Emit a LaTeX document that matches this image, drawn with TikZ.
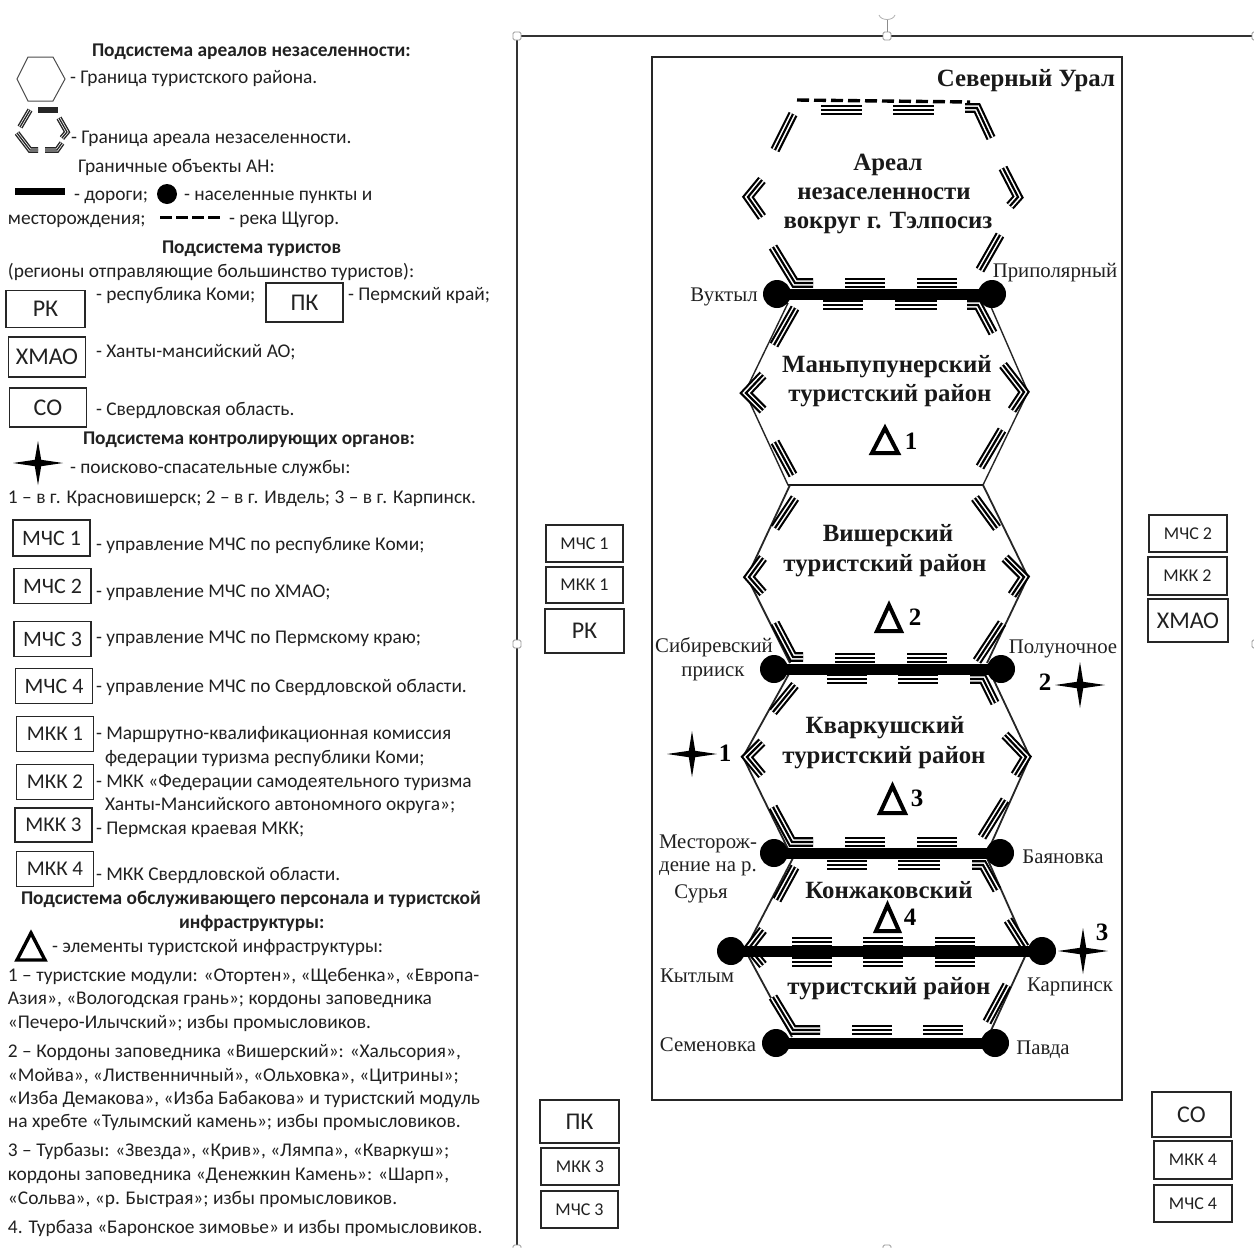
\documentclass[tikz,border=0pt]{standalone}
\usepackage{fontspec}
\setmainfont{Carlito}
\newfontfamily\serifru{Liberation Serif}
\definecolor{ink}{gray}{0.13}
\newcounter{tn}
\tikzset{
  x=1pt,y=-1pt,
  leg/.style={anchor=base west,inner sep=0,outer sep=0,text=ink,font=\fontsize{19.4}{22}\selectfont},
  legb/.style={leg,font=\fontsize{19.4}{22}\selectfont\bfseries},
  mapb/.style={inner sep=0,outer sep=0,yshift=-2.5pt,text=black!90,font=\serifru\fontsize{24.8}{28}\selectfont\bfseries},
  place/.style={inner sep=0,outer sep=0,yshift=-1.5pt,text=ink,font=\serifru\fontsize{20.8}{24}\selectfont},
  num/.style={inner sep=0,outer sep=0,font=\serifru\fontsize{25}{28}\selectfont\bfseries},
  boxl/.style={draw=black!85,line width=1.1,inner sep=0,text=ink},
  trA/.style={line width=9.6,black,line join=miter,miter limit=6},
  trB/.style={line width=5.3,white,line join=miter,miter limit=6},
  trC/.style={line width=2.2,black,line join=miter,miter limit=6},
  smA/.style={line width=5.6,black!85,line join=miter},
  smB/.style={line width=2.8,white,line join=miter},
  smC/.style={line width=1.3,black!85,line join=miter},
  hexo/.style={line width=1.4,black!85,line join=miter},
  road/.style={line width=11,black},
  dot/.style={circle,fill=black,inner sep=0,outer sep=0,minimum size=28},
  river/.style={line width=3.4,black,dash pattern=on 12 off 5},
  delta/.style={line width=4,black,line join=miter},
  handle/.style={draw=black!40,fill=white,line width=0.8,rounded corners=1.5},
}
\newcommand{\TT}[4]{\stepcounter{tn}\node[#1] (n\arabic{tn}) at (#2,#3) {#4};}
\newcommand{\tri}[1]{\draw[trA] #1; \draw[trB] #1; \draw[trC] #1;}
\newcommand{\smtri}[1]{\draw[smA] #1; \draw[smB] #1; \draw[smC] #1;}
\newcommand{\barr}[3]{\tri{(#1,#3) -- (#2,#3)}}
\newcommand{\fourstar}[4]{\fill[black,shift={(#1,#2)}] (-#3,0) -- (-3.2,-3.2) -- (0,-#4) -- (3.2,-3.2) -- (#3,0) -- (3.2,3.2) -- (0,#4) -- (-3.2,3.2) -- cycle;}
\newcommand{\deltatri}[4]{\draw[delta] (#1,#4) -- ({(#1+#2)/2},#3) -- (#2,#4) -- cycle;}
\newcommand{\BX}[7]{\node[boxl,minimum width=#4,minimum height=#5,font=\fontsize{#7}{#7}\selectfont] (#1) at (#2,#3) {#6};}
\begin{document}
\begin{tikzpicture}
\useasboundingbox (0,0) rectangle (1254,1248);
\fill[white] (0,0) rectangle (1254,1248);
% selection frame
\draw[line width=1.8,black!80] (1254,36) -- (517,36) -- (517,1248);
\draw[black!45,line width=0.8] (887,36) -- (887,20);
\draw[black!30,line width=0.8] (879,15) .. controls (881,21) and (893,21) .. (895,15);
\draw[handle] (513,32) rectangle (521,40);
\draw[handle] (883,32) rectangle (891,40);
\draw[handle] (513,640) rectangle (521,648);
\draw[handle] (1252,32) rectangle (1258,40);
\draw[handle] (1252,640) rectangle (1258,648);
\draw[handle] (883,1245) rectangle (891,1252);
\draw[handle] (513,1245) rectangle (521,1252);
% map frame
\draw[line width=1.1,black!85] (652,57) rectangle (1122,1100);
% hexagon outlines
\draw[hexo] (788,303) -- (745,392) -- (788,485) -- (983,485) -- (1028,392) -- (988,300);
\draw[line width=2.4,black!90] (788,485) -- (983,485);
\draw[hexo,line width=1.8] (790,485) -- (747,577) -- (790,663);
\draw[hexo,line width=1.8] (983,485) -- (1028,577) -- (987,663);
\draw[hexo,line width=1.8] (790,672) -- (743,757) -- (790,853);
\draw[hexo,line width=1.8] (990,672) -- (1030,757) -- (987,853);
\draw[hexo,line width=1.8] (793,858) -- (745,950) -- (792,1037);
\draw[hexo,line width=1.8] (987,858) -- (1028,950) -- (988,1037);
% river
\draw[river] (797,100) -- (970,102);
% areal triple lines
\barr{821}{862}{110}\barr{893}{934}{110}
\tri{(965,108) -- (977,108) -- (991,138)}
\tri{(793,114) -- (775,150)}
\tri{(762,180) -- (748,197) -- (762,217)}
\tri{(1003,168) -- (1018,197) -- (1010,206)}
\tri{(1000,235) -- (980,270)}
\tri{(773,247) -- (795,283) -- (813,283)}
\barr{845}{885}{283}\barr{917}{957}{283}
% Manpupuner
\barr{823}{863}{305}\barr{895}{937}{305}
\tri{(967,305) -- (978,305) -- (993,333)}
\tri{(795,308) -- (774,345)}
\tri{(763,375) -- (746,393) -- (763,410)}
\tri{(1003,365) -- (1024,392) -- (1012,410)}
\tri{(775,442) -- (793,475)}
\tri{(1002,430) -- (980,467)}
% Vishera
\tri{(795,498) -- (775,528)}
\tri{(975,498) -- (997,528)}
\tri{(763,558) -- (749,577) -- (763,593)}
\tri{(1005,558) -- (1024,577) -- (1012,595)}
\tri{(775,623) -- (793,657) -- (803,657)}
\barr{835}{875}{658}\barr{907}{947}{658}
\tri{(1002,623) -- (977,661)}
% Kvarkush
\barr{827}{867}{679}\barr{898}{938}{679}
\tri{(970,679) -- (983,679) -- (995,703)}
\tri{(795,685) -- (773,712)}
\tri{(762,742) -- (747,757) -- (762,775)}
\tri{(1005,735) -- (1026,757) -- (1015,775)}
\tri{(773,807) -- (792,842) -- (813,842)}
\barr{845}{885}{842}\barr{917}{957}{842}
\tri{(1005,800) -- (982,837)}
% Konzhak
\barr{827}{867}{865}\barr{898}{940}{865}
\tri{(972,865) -- (983,865) -- (997,890)}
\tri{(795,867) -- (777,900)}
\tri{(763,930) -- (749,948) -- (763,965)}
\tri{(1008,920) -- (1025,947)}
\barr{792}{832}{942}\barr{863}{903}{942}\barr{935}{975}{942}
\barr{792}{832}{962}\barr{863}{903}{962}\barr{935}{975}{962}
\tri{(773,997) -- (793,1030) -- (820,1030)}
\barr{852}{892}{1030}\barr{923}{963}{1030}
\tri{(1007,985) -- (987,1022)}
% settlements and roads
\node[dot] (vuk) at (777,294) {};
\node[dot] (pri) at (992,294) {};
\node[dot] (sib) at (774,669) {};
\node[dot] (pol) at (1001,669) {};
\node[dot] (mes) at (774,853) {};
\node[dot] (bay) at (1000,853) {};
\node[dot] (kyt) at (731,951) {};
\node[dot] (kar) at (1042,951) {};
\node[dot] (sem) at (776,1043) {};
\node[dot] (pav) at (995,1043) {};
\draw[road] (vuk.center) -- (pri.center);
\draw[road] (sib.center) -- (pol.center);
\draw[road] (mes.center) -- (bay.center);
\draw[road] (kyt.center) -- (kar.center);
\draw[road] (sem.center) -- (pav.center);
% map titles
\TT{mapb,anchor=east}{1115}{78}{Северный Урал}
\TT{mapb}{888}{162}{Ареал}
\TT{mapb}{884}{191}{незаселенности}
\TT{mapb}{888}{221}{вокруг г. Тэлпосиз}
\TT{mapb}{887}{364}{Маньпупунерский}
\TT{mapb}{890}{393}{туристский район}
\TT{mapb}{888}{533}{Вишерский}
\TT{mapb}{885}{563}{туристский район}
\TT{mapb}{885}{725}{Кваркушский}
\TT{mapb}{884}{755}{туристский район}
\TT{mapb}{889}{888}{Конжаковский}
\TT{mapb}{889}{986}{туристский район}
% places
\TT{place}{724}{295}{Вуктыл}
\TT{place}{1055}{271}{Приполярный}
\TT{place}{714}{646}{Сибиревский}
\TT{place}{713}{672}{прииск}
\TT{place}{1063}{647}{Полуночное}
\TT{place}{708}{842}{Месторож-}
\TT{place}{708}{867}{дение на р.}
\TT{place}{701}{892}{Сурья}
\TT{place}{1063}{855}{Баяновка}
\TT{place}{697}{974}{Кытлым}
\TT{place}{1070}{985}{Карпинск}
\TT{place}{708}{1043}{Семеновка}
\TT{place}{1043}{1048}{Павда}
% infrastructure triangles
\deltatri{872}{898}{428}{453}\TT{num}{911}{441}{1}
\deltatri{877}{901}{605}{631}\TT{num}{915}{617}{2}
\deltatri{880}{905}{786}{813}\TT{num}{917}{798}{3}
\deltatri{876}{899}{905}{931}\TT{num}{910}{917}{4}
% stars
\fourstar{692}{754}{25}{23}\TT{num}{725}{753}{1}
\fourstar{1080}{685}{25}{23}\TT{num}{1045}{682}{2}
\fourstar{1083}{951}{25}{23}\TT{num}{1102}{932}{3}
% map boxes
\BX{a1}{584.5}{543.5}{77}{37}{МЧС 1}{18}{18}
\BX{a2}{584.5}{585}{77}{36}{МКК 1}{18}{18}
\BX{a3}{584.5}{631}{79}{44}{РК}{24}{24}
\BX{b1}{1188}{533.5}{78}{37}{МЧС 2}{18}{18}
\BX{b2}{1187.5}{576}{79}{38}{МКК 2}{18}{18}
\BX{b3}{1188}{620.5}{80}{43}{ХМАО}{24}{24}
\BX{c1}{579.5}{1121.5}{79}{43}{ПК}{24}{24}
\BX{c2}{580}{1166.5}{78}{37}{МКК 3}{18}{18}
\BX{c3}{579.5}{1209.5}{77}{37}{МЧС 3}{18}{18}
\BX{d1}{1191.5}{1114.5}{79}{45}{СО}{24}{24}
\BX{d2}{1193}{1160}{78}{38}{МКК 4}{18}{18}
\BX{d3}{1193}{1203.5}{78}{37}{МЧС 4}{18}{18}
% legend boxes
\BX{l1}{45.5}{309}{79}{37}{РК}{24}{24}
\BX{l2}{304.5}{302.5}{77}{39}{ПК}{24}{24}
\BX{l3}{47}{357}{77}{40}{ХМАО}{24}{24}
\BX{l4}{48}{407.5}{77}{39}{СО}{24}{24}
\BX{l5}{51.5}{538}{77}{36}{МЧС 1}{22}{22}
\BX{l6}{52.5}{586}{77}{35}{МЧС 2}{22}{22}
\BX{l7}{52.5}{639}{77}{35}{МЧС 3}{22}{22}
\BX{l8}{54}{686}{77}{35}{МЧС 4}{22}{22}
\BX{l9}{55}{734}{77}{35}{МКК 1}{21}{21}
\BX{l10}{55}{782}{77}{35}{МКК 2}{21}{21}
\BX{l11}{53.5}{825}{77}{34}{МКК 3}{21}{21}
\BX{l12}{55}{869}{77}{35}{МКК 4}{21}{21}
% legend icons
\draw[line width=1,black!70] (17,79) -- (28,57) -- (53,57) -- (65,79) -- (53,101) -- (28,101) -- cycle;
\smtri{(38,110) -- (58,110)}
\smtri{(30,110) -- (20,127)}
\smtri{(59,118) -- (67,132) -- (62,138)}
\smtri{(17,133) -- (30,150) -- (38,150)}
\smtri{(45,150) -- (57,150) -- (62,143)}
\draw[line width=7,black] (15,191) -- (65,191);
\node[circle,fill=black,inner sep=0,minimum size=20] (ldot) at (167,194) {};
\draw[line width=3,black,dash pattern=on 12 off 4] (160,217) -- (220,217);
\fourstar{38}{463}{25}{22}
\draw[line width=3.4,black,line join=miter] (17,960) -- (31,933) -- (45,960) -- cycle;
% legend text
\TT{legb}{92}{56}{Подсистема ареалов незаселенности:}
\TT{leg}{70}{83}{- Граница туристского района.}
\TT{leg}{71}{143}{- Граница ареала незаселенности.}
\TT{leg}{78}{172}{Граничные объекты АН:}
\TT{leg}{74}{200}{- дороги;}
\TT{leg}{184}{200}{- населенные пункты и}
\TT{leg}{8}{224}{месторождения;}
\TT{leg}{229}{224}{- река Щугор.}
\TT{legb}{162}{253}{Подсистема туристов}
\TT{leg}{8}{277}{(регионы отправляющие большинство туристов):}
\TT{leg}{96}{300}{- республика Коми;}
\TT{leg}{348}{300}{- Пермский край;}
\TT{leg}{96}{357}{- Ханты-мансийский АО;}
\TT{leg}{96}{415}{- Свердловская область.}
\TT{legb}{83}{444}{Подсистема контролирующих органов:}
\TT{leg}{70}{473}{- поисково-спасательные службы:}
\TT{leg}{8}{503}{1 – в г. Красновишерск; 2 – в г. Ивдель; 3 – в г. Карпинск.}
\TT{leg}{96}{550}{- управление МЧС по республике Коми;}
\TT{leg}{96}{597}{- управление МЧС по ХМАО;}
\TT{leg}{96}{643}{- управление МЧС по Пермскому краю;}
\TT{leg}{96}{692}{- управление МЧС по Свердловской области.}
\TT{leg}{96}{739}{- Маршрутно-квалификационная комиссия}
\TT{leg}{105}{763}{федерации туризма республики Коми;}
\TT{leg}{96}{787}{- МКК «Федерации самодеятельного туризма}
\TT{leg}{105}{810}{Ханты-Мансийского автономного округа»;}
\TT{leg}{96}{834}{- Пермская краевая МКК;}
\TT{leg}{96}{880}{- МКК Свердловской области.}
\TT{legb}{21}{904}{Подсистема обслуживающего персонала и туристской}
\TT{legb}{179}{928}{инфраструктуры:}
\TT{leg}{52}{952}{- элементы туристской инфраструктуры:}
\TT{leg}{8}{981}{1 – туристские модули: «Отортен», «Щебенка», «Европа-}
\TT{leg}{8}{1004}{Азия», «Вологодская грань»; кордоны заповедника}
\TT{leg}{8}{1028}{«Печеро-Илычский»; избы промысловиков.}
\TT{leg}{8}{1057}{2 – Кордоны заповедника «Вишерский»: «Хальсория»,}
\TT{leg}{8}{1081}{«Мойва», «Лиственничный», «Ольховка», «Цитрины»;}
\TT{leg}{8}{1104}{«Изба Демакова», «Изба Бабакова» и туристский модуль}
\TT{leg}{8}{1127}{на хребте «Тулымский камень»; избы промысловиков.}
\TT{leg}{8}{1156}{3 – Турбазы: «Звезда», «Крив», «Лямпа», «Кваркуш»;}
\TT{leg}{8}{1180}{кордоны заповедника «Денежкин Камень»: «Шарп»,}
\TT{leg}{8}{1204}{«Сольва», «р. Быстрая»; избы промысловиков.}
\TT{leg}{8}{1233}{4. Турбаза «Баронское зимовье» и избы промысловиков.}
\end{tikzpicture}
\end{document}
